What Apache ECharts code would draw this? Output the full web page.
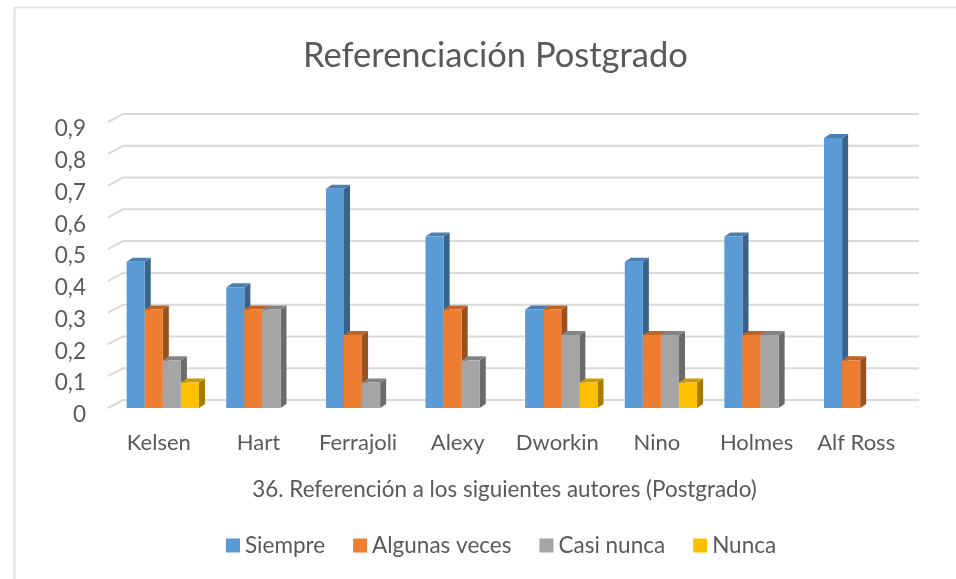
<!DOCTYPE html>
<html><head><meta charset="utf-8">
<style>html,body{margin:0;padding:0;background:#fff}#c{width:956px;height:579px}</style>
<script src="https://cdn.jsdelivr.net/npm/echarts@6/dist/echarts.min.js"></script>
</head><body><div id="c"></div>
<script>
var categories = ['Kelsen','Hart','Ferrajoli','Alexy','Dworkin','Nino','Holmes','Alf Ross'];
var yTicks = [0,0.1,0.2,0.3,0.4,0.5,0.6,0.7,0.8,0.9];
var siempre = [0.46,0.38,0.69,0.54,0.31,0.46,0.54,0.85];
var algunasVeces = [0.31,0.31,0.23,0.31,0.31,0.23,0.23,0.15];
var casiNunca = [0.15,0.31,0.08,0.15,0.23,0.23,0.23,0];
var nunca = [0.08,0,0,0,0.08,0.08,0,0];
var seriesNames = ['Siempre','Algunas veces','Casi nunca','Nunca'];
var seriesValues = [siempre,algunasVeces,casiNunca,nunca];
var colors = ['#5B9BD5','#ED7D31','#A5A5A5','#FFC000'];
var tops = ['#4A7FB0','#BE6427','#848484','#CC9A00'];
var sides = ['#38648C','#9A5120','#6B6B6B','#A67C00'];
var DX = 6, DY = 4;

function barSeries(idx){
  return {
    name: seriesNames[idx], type:'custom', z:3+idx, clip:false,
    itemStyle:{color:colors[idx]},
    data: seriesValues[idx].map(function(v,i){return [i,v];}),
    renderItem:function(params,api){
      var v = api.value(1);
      if(!v) return {type:'group',children:[]};
      var i = api.value(0);
      var band = api.size([1,0])[0];
      var w = band*0.1815;
      var c = api.coord([i,v]), b = api.coord([i,0]);
      var x0 = c[0]-2*w+idx*w, x1 = x0+w, yt = c[1], yb = b[1];
      return {type:'group',children:[
        {type:'polygon',shape:{points:[[x1,yt],[x1+DX,yt-DY],[x1+DX,yb-DY],[x1,yb]]},style:{fill:sides[idx]}},
        {type:'polygon',shape:{points:[[x0,yt],[x0+DX,yt-DY],[x1+DX,yt-DY],[x1,yt]]},style:{fill:tops[idx]}},
        {type:'rect',shape:{x:x0,y:yt,width:w,height:yb-yt},style:{fill:colors[idx]}}
      ]};
    }
  };
}
var wall = {
  type:'custom', silent:true, z:1, clip:false, legendHoverLink:false,
  data: yTicks.map(function(t){return [0,t];}),
  renderItem:function(params,api){
    var p = api.coord([0,api.value(1)]);
    var xl = params.coordSys.x, xr = params.coordSys.x+params.coordSys.width;
    return {type:'polyline',shape:{points:[[xl-5,p[1]],[xl+10,p[1]-8],[xr+9,p[1]-8]]},
      style:{fill:null,stroke:'#D9D9D9',lineWidth:2}};
  }
};
var chart = echarts.init(document.getElementById('c'),null,{renderer:'canvas'});
chart.setOption({
  animation:false,
  backgroundColor:'#fff',
  textStyle:{fontFamily:'Lato'},
  title:{text:'Referenciación Postgrado',left:298,top:33,itemGap:0,
    textStyle:{fontFamily:'Lato',fontSize:34.5,fontWeight:'normal',color:'#595959'}},
  legend:{data:seriesNames,bottom:17,left:221,icon:'rect',itemWidth:14,itemHeight:14,itemGap:28,
    textStyle:{fontFamily:'Lato',fontSize:22.5,color:'#595959'}},
  grid:{left:113,width:797,top:122,height:286},
  xAxis:{type:'category',data:categories,name:'36. Referención a los siguientes autores (Postgrado)',
    nameLocation:'middle',nameGap:71,nameTextStyle:{fontFamily:'Lato',fontSize:22.4,color:'#595959',padding:[0,14,0,0]},
    axisLine:{show:false},axisTick:{show:false},splitLine:{show:false},
    axisLabel:{fontFamily:'Lato',fontSize:22,color:'#595959',margin:24,interval:0,padding:[0,8,0,0]}},
  yAxis:{type:'value',min:0,max:0.9,interval:0.1,
    axisLine:{show:false},axisTick:{show:false},splitLine:{show:false},
    axisLabel:{fontFamily:'Lato',color:'#595959',margin:27,
      formatter:function(v){return '{a|'+String(+v.toFixed(1)).replace('.',',')+'}';},
      rich:{a:{fontFamily:'Lato',fontSize:22.5,color:'#595959',padding:[14,0,0,0]}}}},
  series:[wall].concat(seriesNames.map(function(n,i){return barSeries(i);})),
  graphic:[
    {type:'line',silent:true,z:-1,shape:{x1:14.5,y1:7,x2:14.5,y2:579},style:{stroke:'#E3E3E3',lineWidth:2}},
    {type:'line',silent:true,z:-1,shape:{x1:14,y1:7.5,x2:956,y2:7.5},style:{stroke:'#E3E3E3',lineWidth:1.5}}
  ]
});
</script></body></html>
